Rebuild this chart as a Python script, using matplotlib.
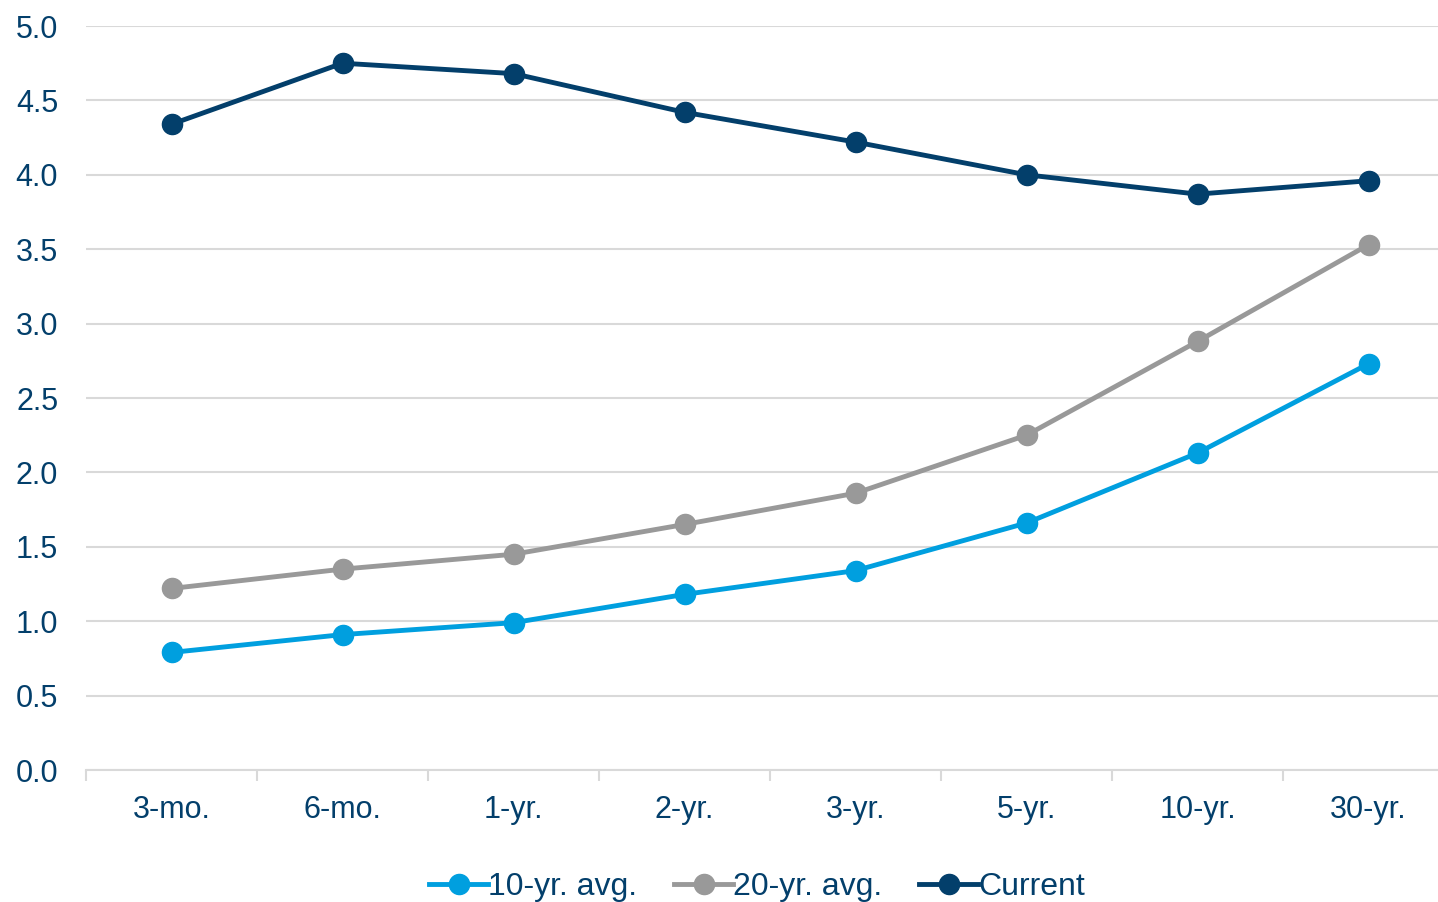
import numpy as np
import matplotlib.pyplot as plt
from matplotlib.ticker import FixedLocator, NullFormatter

plt.rcParams['font.family'] = ['Liberation Sans', 'DejaVu Sans']

tenors = ['3-mo.', '6-mo.', '1-yr.', '2-yr.', '3-yr.', '5-yr.', '10-yr.', '30-yr.']
avg_10yr = [0.79, 0.91, 0.99, 1.18, 1.34, 1.66, 2.13, 2.73]
avg_20yr = [1.22, 1.35, 1.45, 1.65, 1.86, 2.25, 2.88, 3.53]
current = [4.34, 4.75, 4.68, 4.42, 4.22, 4.00, 3.87, 3.96]

navy = '#033F6B'
light_blue = '#009FDF'
grey = '#999999'
grid_c = '#D9D9D9'

fig = plt.figure(figsize=(14.38, 9.02), dpi=100)
ax = fig.add_axes([86 / 1438, 1 - 770 / 902, 1368 / 1438, 744 / 902])

x = np.arange(len(tenors))
for vals, c, lab in [(avg_10yr, light_blue, '10-yr. avg.'),
                     (avg_20yr, grey, '20-yr. avg.'),
                     (current, navy, 'Current')]:
    ax.plot(x, vals, color=c, lw=3.5, marker='o', ms=14.5, label=lab, zorder=3)

ax.set_xlim(-0.5, len(tenors) - 0.5)
ax.set_ylim(0, 5)
yt = np.arange(0, 5.01, 0.5)
ax.set_yticks(yt)
ax.set_yticklabels([f'{v:.1f}' for v in yt])
ax.set_xticks(x)
ax.set_xticklabels(tenors)
# small tick marks between the categories
ax.xaxis.set_minor_locator(FixedLocator(np.arange(-0.5, len(tenors), 1.0)))
ax.xaxis.set_minor_formatter(NullFormatter())
ax.tick_params(axis='x', which='major', length=0, pad=18, labelsize=22, labelcolor=navy)
ax.tick_params(axis='x', which='minor', length=8, width=1.5, color=grid_c, direction='out')
ax.tick_params(axis='y', length=0, pad=20, labelsize=22, labelcolor=navy)

ax.grid(axis='y', color=grid_c, lw=1.5)
ax.set_axisbelow(True)
for s in ['top', 'right', 'left']:
    ax.spines[s].set_visible(False)
ax.spines['bottom'].set_color(grid_c)
ax.spines['bottom'].set_linewidth(1.5)

fig.legend(loc='center', bbox_to_anchor=(757 / 1438, 1 - 887 / 902), ncol=3,
           frameon=False, fontsize=23, handlelength=1.85, handletextpad=0.0,
           columnspacing=1.15, labelcolor=navy)

fig.savefig('out.png', dpi=100)
